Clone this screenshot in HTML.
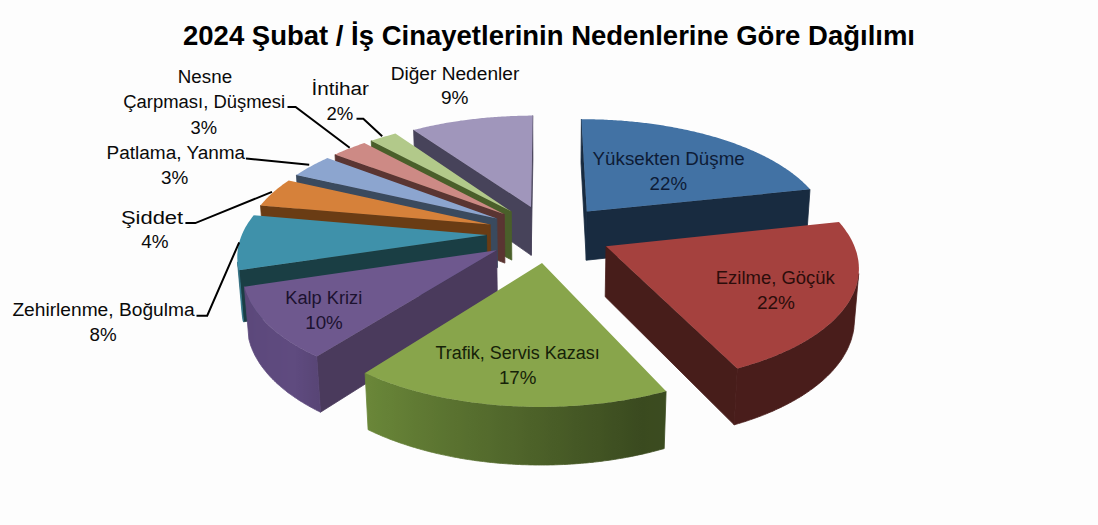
<!DOCTYPE html>
<html><head><meta charset="utf-8"><style>
html,body{margin:0;padding:0;background:#fdfdfd;}
body{width:1098px;height:525px;overflow:hidden;}
svg{display:block;}
text{font-family:"Liberation Sans",sans-serif;}
</style></head><body>
<svg width="1098" height="525" viewBox="0 0 1098 525">
<rect width="1098" height="525" fill="#fdfdfd"/>
<text x="183" y="44.6" textLength="732" lengthAdjust="spacingAndGlyphs" font-weight="bold" font-size="27" fill="#000">2024 Şubat / İş Cinayetlerinin Nedenlerine Göre Dağılımı</text>
<defs><linearGradient id="g1_51" gradientUnits="userSpaceOnUse" x1="734.2" y1="0" x2="858.7" y2="0"><stop offset="0.0211" stop-color="#491d1b"/><stop offset="0.0553" stop-color="#491d1b"/><stop offset="0.0891" stop-color="#491d1b"/><stop offset="0.1223" stop-color="#491d1b"/><stop offset="0.1551" stop-color="#491d1b"/><stop offset="0.1873" stop-color="#491d1b"/><stop offset="0.2190" stop-color="#491d1b"/><stop offset="0.2501" stop-color="#491d1b"/><stop offset="0.2807" stop-color="#491d1b"/><stop offset="0.3108" stop-color="#491d1b"/><stop offset="0.3402" stop-color="#491d1b"/><stop offset="0.3691" stop-color="#491d1b"/><stop offset="0.3974" stop-color="#491d1b"/><stop offset="0.4250" stop-color="#491d1b"/><stop offset="0.4521" stop-color="#491d1b"/><stop offset="0.4785" stop-color="#491d1b"/><stop offset="0.5043" stop-color="#491d1b"/><stop offset="0.5295" stop-color="#491d1b"/><stop offset="0.5540" stop-color="#491d1b"/><stop offset="0.5779" stop-color="#491d1b"/><stop offset="0.6011" stop-color="#491d1b"/><stop offset="0.6237" stop-color="#491d1b"/><stop offset="0.6456" stop-color="#491d1b"/><stop offset="0.6668" stop-color="#491d1b"/><stop offset="0.6873" stop-color="#491d1b"/><stop offset="0.7072" stop-color="#491d1b"/><stop offset="0.7264" stop-color="#491d1b"/><stop offset="0.7449" stop-color="#491d1b"/><stop offset="0.7627" stop-color="#491d1b"/><stop offset="0.7798" stop-color="#491d1b"/><stop offset="0.7962" stop-color="#491d1b"/><stop offset="0.8119" stop-color="#491d1b"/><stop offset="0.8270" stop-color="#491d1b"/><stop offset="0.8413" stop-color="#491d1b"/><stop offset="0.8549" stop-color="#491d1b"/><stop offset="0.8679" stop-color="#491d1b"/><stop offset="0.8801" stop-color="#491d1b"/><stop offset="0.8917" stop-color="#491d1b"/><stop offset="0.9025" stop-color="#491d1b"/><stop offset="0.9127" stop-color="#491d1b"/><stop offset="0.9222" stop-color="#491d1b"/><stop offset="0.9309" stop-color="#491d1b"/><stop offset="0.9390" stop-color="#491d1b"/><stop offset="0.9464" stop-color="#491d1b"/><stop offset="0.9531" stop-color="#491d1b"/><stop offset="0.9592" stop-color="#491d1b"/><stop offset="0.9645" stop-color="#491d1b"/><stop offset="0.9692" stop-color="#491d1b"/><stop offset="0.9732" stop-color="#491d1b"/><stop offset="0.9766" stop-color="#491d1b"/><stop offset="0.9793" stop-color="#491d1b"/><stop offset="0.9813" stop-color="#491d1b"/></linearGradient><linearGradient id="g2_0" gradientUnits="userSpaceOnUse" x1="365.1" y1="0" x2="666.1" y2="0"><stop offset="0.0081" stop-color="#6a8739"/><stop offset="0.0267" stop-color="#698538"/><stop offset="0.0459" stop-color="#678437"/><stop offset="0.0657" stop-color="#668237"/><stop offset="0.0860" stop-color="#658136"/><stop offset="0.1067" stop-color="#647f35"/><stop offset="0.1280" stop-color="#637e35"/><stop offset="0.1497" stop-color="#617c34"/><stop offset="0.1719" stop-color="#607a33"/><stop offset="0.1944" stop-color="#5f7933"/><stop offset="0.2174" stop-color="#5e7732"/><stop offset="0.2408" stop-color="#5c7631"/><stop offset="0.2646" stop-color="#5b7431"/><stop offset="0.2886" stop-color="#5a7230"/><stop offset="0.3130" stop-color="#59712f"/><stop offset="0.3377" stop-color="#576f2f"/><stop offset="0.3627" stop-color="#566e2e"/><stop offset="0.3879" stop-color="#556c2d"/><stop offset="0.4132" stop-color="#546b2d"/><stop offset="0.4388" stop-color="#52692c"/><stop offset="0.4646" stop-color="#51672b"/><stop offset="0.4905" stop-color="#50662b"/><stop offset="0.5164" stop-color="#4f642a"/><stop offset="0.5425" stop-color="#4d6229"/><stop offset="0.5686" stop-color="#4c6128"/><stop offset="0.5947" stop-color="#4b5f28"/><stop offset="0.6208" stop-color="#495d27"/><stop offset="0.6469" stop-color="#485c26"/><stop offset="0.6729" stop-color="#475a26"/><stop offset="0.6988" stop-color="#455825"/><stop offset="0.7246" stop-color="#445724"/><stop offset="0.7503" stop-color="#435524"/><stop offset="0.7758" stop-color="#425423"/><stop offset="0.8010" stop-color="#405222"/><stop offset="0.8261" stop-color="#3f5022"/><stop offset="0.8509" stop-color="#3e4f21"/><stop offset="0.8754" stop-color="#3c4d20"/><stop offset="0.8996" stop-color="#3b4b20"/><stop offset="0.9235" stop-color="#3a4a1f"/><stop offset="0.9470" stop-color="#3b4b1f"/><stop offset="0.9702" stop-color="#3b4b20"/><stop offset="0.9929" stop-color="#3b4c20"/></linearGradient><linearGradient id="g3_0" gradientUnits="userSpaceOnUse" x1="244.4" y1="0" x2="320.5" y2="0"><stop offset="0.0316" stop-color="#5b487a"/><stop offset="0.0355" stop-color="#5b487a"/><stop offset="0.0397" stop-color="#5b487a"/><stop offset="0.0441" stop-color="#5b487a"/><stop offset="0.0488" stop-color="#5b487a"/><stop offset="0.0539" stop-color="#5b487b"/><stop offset="0.0591" stop-color="#5c487b"/><stop offset="0.0647" stop-color="#5c487b"/><stop offset="0.0705" stop-color="#5c487b"/><stop offset="0.0767" stop-color="#5c487b"/><stop offset="0.0831" stop-color="#5c487b"/><stop offset="0.0898" stop-color="#5c487b"/><stop offset="0.0968" stop-color="#5c487b"/><stop offset="0.1040" stop-color="#5c487b"/><stop offset="0.1116" stop-color="#5c487b"/><stop offset="0.1194" stop-color="#5c487c"/><stop offset="0.1275" stop-color="#5c497c"/><stop offset="0.1359" stop-color="#5c497c"/><stop offset="0.1446" stop-color="#5c497c"/><stop offset="0.1536" stop-color="#5d497c"/><stop offset="0.1629" stop-color="#5d497c"/><stop offset="0.1724" stop-color="#5d497c"/><stop offset="0.1823" stop-color="#5d497c"/><stop offset="0.1924" stop-color="#5d497c"/><stop offset="0.2028" stop-color="#5d497c"/><stop offset="0.2135" stop-color="#5d497d"/><stop offset="0.2245" stop-color="#5d497d"/><stop offset="0.2358" stop-color="#5d497d"/><stop offset="0.2474" stop-color="#5d497d"/><stop offset="0.2592" stop-color="#5d497d"/><stop offset="0.2714" stop-color="#5d497d"/><stop offset="0.2838" stop-color="#5d497d"/><stop offset="0.2965" stop-color="#5e497d"/><stop offset="0.3095" stop-color="#5e4a7d"/><stop offset="0.3228" stop-color="#5e4a7d"/><stop offset="0.3364" stop-color="#5e4a7e"/><stop offset="0.3503" stop-color="#5e4a7e"/><stop offset="0.3644" stop-color="#5e4a7e"/><stop offset="0.3788" stop-color="#5e4a7e"/><stop offset="0.3936" stop-color="#5e4a7e"/><stop offset="0.4086" stop-color="#5e4a7e"/><stop offset="0.4239" stop-color="#5e4a7e"/><stop offset="0.4394" stop-color="#5e4a7e"/><stop offset="0.4553" stop-color="#5e4a7e"/><stop offset="0.4714" stop-color="#5e4a7e"/><stop offset="0.4878" stop-color="#5e4a7f"/><stop offset="0.5045" stop-color="#5f4a7f"/><stop offset="0.5215" stop-color="#5f4a7f"/><stop offset="0.5388" stop-color="#5f4a7f"/><stop offset="0.5563" stop-color="#5f4a7f"/><stop offset="0.5741" stop-color="#5f4b7f"/><stop offset="0.5922" stop-color="#5f4b7f"/><stop offset="0.6106" stop-color="#5f4b7f"/><stop offset="0.6293" stop-color="#5f4b7f"/><stop offset="0.6482" stop-color="#5f4b7f"/><stop offset="0.6674" stop-color="#5f4b7f"/><stop offset="0.6868" stop-color="#5e4a7e"/><stop offset="0.7066" stop-color="#5e4a7e"/><stop offset="0.7266" stop-color="#5d497d"/><stop offset="0.7468" stop-color="#5d497d"/><stop offset="0.7674" stop-color="#5d497c"/><stop offset="0.7882" stop-color="#5c487b"/><stop offset="0.8092" stop-color="#5c487b"/><stop offset="0.8305" stop-color="#5b487a"/><stop offset="0.8521" stop-color="#5b4779"/><stop offset="0.8740" stop-color="#5a4779"/><stop offset="0.8961" stop-color="#5a4678"/><stop offset="0.9184" stop-color="#594677"/><stop offset="0.9410" stop-color="#594677"/><stop offset="0.9639" stop-color="#584576"/></linearGradient><linearGradient id="g4_0" gradientUnits="userSpaceOnUse" x1="237.5" y1="0" x2="243.5" y2="0"><stop offset="0.3869" stop-color="#2f6c7f"/><stop offset="0.4070" stop-color="#306f82"/><stop offset="0.4304" stop-color="#327286"/><stop offset="0.4573" stop-color="#33758a"/><stop offset="0.4876" stop-color="#33768a"/><stop offset="0.5213" stop-color="#33768a"/><stop offset="0.5584" stop-color="#33768a"/><stop offset="0.5990" stop-color="#33768a"/></linearGradient></defs>
<g><polygon points="413.6,130.0 531.0,206.9 531.2,255.3 415.2,174.2" fill="#47435a" stroke="#47435a" stroke-width="0.8" stroke-linejoin="round"/><polygon points="531.0,206.9 532.7,115.6 532.9,159.0 531.2,255.3" fill="#47435a" stroke="#47435a" stroke-width="0.8" stroke-linejoin="round"/><polygon points="531.0,206.9 413.6,130.0 415.2,129.6 416.8,129.2 418.5,128.8 420.1,128.4 421.7,128.0 423.4,127.6 425.0,127.2 426.7,126.8 428.4,126.5 430.0,126.1 431.7,125.8 433.4,125.4 435.1,125.1 436.8,124.7 438.5,124.4 440.2,124.1 441.9,123.8 443.6,123.4 445.3,123.1 447.0,122.8 448.7,122.5 450.5,122.3 452.2,122.0 453.9,121.7 455.7,121.4 457.4,121.2 459.1,120.9 460.9,120.6 462.6,120.4 464.4,120.2 466.2,119.9 467.9,119.7 469.7,119.5 471.5,119.3 473.2,119.1 475.0,118.9 476.8,118.7 478.6,118.5 480.3,118.3 482.1,118.1 483.9,117.9 485.7,117.8 487.5,117.6 489.3,117.5 491.1,117.3 492.9,117.2 494.7,117.0 496.5,116.9 498.3,116.8 500.1,116.7 501.9,116.6 503.7,116.5 505.5,116.4 507.3,116.3 509.1,116.2 510.9,116.1 512.7,116.0 514.5,116.0 516.3,115.9 518.2,115.8 520.0,115.8 521.8,115.8 523.6,115.7 525.4,115.7 527.2,115.7 529.0,115.6 530.9,115.6 532.7,115.6" fill="#a096bb"/></g>
<g><polygon points="371.2,140.7 511.3,211.5 511.8,260.1 373.4,185.5" fill="#4a5f2a" stroke="#4a5f2a" stroke-width="0.8" stroke-linejoin="round"/><polygon points="511.3,211.5 371.2,140.7 372.8,140.2 374.3,139.7 375.9,139.2 377.5,138.7 379.1,138.2 380.7,137.7 382.3,137.3 383.9,136.8 385.5,136.3 387.1,135.9 388.8,135.4 390.4,134.9 392.0,134.5 393.7,134.1 395.4,133.6" fill="#b2c98a"/></g>
<g><polygon points="581.4,119.2 586.8,211.6 586.3,260.2 581.0,162.8" fill="#182b40" stroke="#182b40" stroke-width="0.8" stroke-linejoin="round"/><polygon points="586.8,211.6 810.0,189.3 806.6,236.7 586.3,260.2" fill="#182b40" stroke="#182b40" stroke-width="0.8" stroke-linejoin="round"/><polygon points="586.8,211.6 581.4,119.2 583.2,119.2 585.0,119.2 586.9,119.2 588.7,119.2 590.5,119.3 592.3,119.3 594.1,119.3 595.9,119.4 597.7,119.4 599.5,119.5 601.3,119.5 603.1,119.6 604.9,119.7 606.7,119.8 608.5,119.9 610.3,120.0 612.1,120.1 613.9,120.2 615.7,120.3 617.5,120.4 619.3,120.5 621.1,120.6 622.9,120.8 624.7,120.9 626.5,121.1 628.3,121.2 630.1,121.4 631.9,121.6 633.7,121.7 635.4,121.9 637.2,122.1 639.0,122.3 640.8,122.5 642.5,122.7 644.3,122.9 646.1,123.1 647.8,123.3 649.6,123.6 651.4,123.8 653.1,124.0 654.9,124.3 656.6,124.5 658.4,124.8 660.1,125.1 661.8,125.3 663.6,125.6 665.3,125.9 667.0,126.2 668.8,126.5 670.5,126.8 672.2,127.1 673.9,127.4 675.6,127.7 677.3,128.0 679.0,128.4 680.7,128.7 682.4,129.0 684.1,129.4 685.8,129.8 687.4,130.1 689.1,130.5 690.8,130.9 692.4,131.2 694.1,131.6 695.7,132.0 697.4,132.4 699.0,132.8 700.7,133.2 702.3,133.6 703.9,134.0 705.5,134.5 707.1,134.9 708.7,135.3 710.3,135.8 711.9,136.2 713.5,136.7 715.1,137.1 716.7,137.6 718.2,138.1 719.8,138.6 721.3,139.0 722.9,139.5 724.4,140.0 726.0,140.5 727.5,141.0 729.0,141.5 730.5,142.1 732.0,142.6 733.5,143.1 735.0,143.6 736.5,144.2 737.9,144.7 739.4,145.3 740.9,145.8 742.3,146.4 743.7,147.0 745.2,147.5 746.6,148.1 748.0,148.7 749.4,149.3 750.8,149.9 752.2,150.5 753.6,151.1 754.9,151.7 756.3,152.3 757.6,152.9 759.0,153.6 760.3,154.2 761.6,154.8 762.9,155.5 764.2,156.1 765.5,156.8 766.8,157.4 768.1,158.1 769.3,158.8 770.6,159.4 771.8,160.1 773.0,160.8 774.3,161.5 775.5,162.2 776.7,162.9 777.8,163.6 779.0,164.3 780.2,165.0 781.3,165.7 782.5,166.4 783.6,167.2 784.7,167.9 785.8,168.6 786.9,169.4 788.0,170.1 789.1,170.9 790.1,171.6 791.1,172.4 792.2,173.1 793.2,173.9 794.2,174.7 795.2,175.5 796.2,176.2 797.1,177.0 798.1,177.8 799.0,178.6 800.0,179.4 800.9,180.2 801.8,181.0 802.7,181.8 803.5,182.7 804.4,183.5 805.2,184.3 806.1,185.1 806.9,186.0 807.7,186.8 808.5,187.6 809.2,188.5 810.0,189.3" fill="#4272a4"/></g>
<g><polygon points="335.0,154.5 504.3,214.3 504.9,263.1 337.7,200.0" fill="#5a3532" stroke="#5a3532" stroke-width="0.8" stroke-linejoin="round"/><polygon points="504.3,214.3 335.0,154.5 336.4,153.9 337.8,153.2 339.2,152.6 340.6,152.0 342.0,151.4 343.5,150.8 344.9,150.2 346.3,149.6 347.8,149.1 349.3,148.5 350.7,147.9 352.2,147.4 353.7,146.8 355.2,146.2 356.7,145.7 358.2,145.2 359.7,144.6 361.3,144.1 362.8,143.6 364.3,143.1" fill="#cd8a85"/></g>
<g><polygon points="296.4,175.1 496.8,218.6 497.5,267.6 299.7,221.7" fill="#3a4a5e" stroke="#3a4a5e" stroke-width="0.8" stroke-linejoin="round"/><polygon points="496.8,218.6 296.4,175.1 297.6,174.3 298.8,173.5 299.9,172.8 301.1,172.0 302.3,171.3 303.5,170.5 304.8,169.8 306.0,169.1 307.2,168.3 308.5,167.6 309.8,166.9 311.1,166.2 312.4,165.5 313.7,164.8 315.0,164.1 316.3,163.4 317.6,162.7 319.0,162.0 320.3,161.4 321.7,160.7 323.1,160.0 324.5,159.4 325.9,158.7 327.3,158.1" fill="#8ca5cf"/></g>
<g><polygon points="260.5,205.4 490.2,224.6 491.0,273.9 264.4,253.6" fill="#6a3c14" stroke="#6a3c14" stroke-width="0.8" stroke-linejoin="round"/><polygon points="490.2,224.6 260.5,205.4 261.3,204.5 262.0,203.6 262.8,202.7 263.6,201.8 264.4,200.9 265.2,200.1 266.0,199.2 266.8,198.3 267.7,197.5 268.6,196.6 269.4,195.8 270.3,194.9 271.2,194.1 272.2,193.2 273.1,192.4 274.1,191.6 275.0,190.7 276.0,189.9 277.0,189.1 278.0,188.3 279.0,187.5 280.0,186.7 281.1,185.9 282.1,185.1 283.2,184.3 284.3,183.5 285.4,182.7 286.5,181.9 287.6,181.2 288.7,180.4" fill="#d6813a"/></g>
<g><polygon points="239.0,270.2 486.5,235.1 487.3,284.9 243.5,321.8" fill="#1a3e44" stroke="#1a3e44" stroke-width="0.8" stroke-linejoin="round"/><polygon points="239.0,270.2 238.7,269.2 238.5,268.1 238.3,267.1 238.1,266.0 237.9,265.0 237.8,264.0 237.6,262.9 237.5,261.9 242.0,313.1 242.1,314.2 242.3,315.3 242.4,316.4 242.6,317.5 242.8,318.5 243.0,319.6 243.2,320.7 243.5,321.8" fill="url(#g4_0)" stroke="url(#g4_0)" stroke-width="0.8" stroke-linejoin="round"/><polygon points="486.5,235.1 239.0,270.2 238.7,269.2 238.5,268.1 238.3,267.1 238.1,266.0 237.9,265.0 237.8,264.0 237.6,262.9 237.5,261.9 237.4,260.9 237.4,259.8 237.3,258.8 237.3,257.8 237.3,256.7 237.3,255.7 237.3,254.7 237.4,253.7 237.5,252.6 237.6,251.6 237.7,250.6 237.8,249.6 237.9,248.5 238.1,247.5 238.3,246.5 238.5,245.5 238.7,244.5 239.0,243.5 239.2,242.4 239.5,241.4 239.8,240.4 240.1,239.4 240.5,238.4 240.8,237.4 241.2,236.4 241.6,235.4 242.0,234.5 242.4,233.5 242.9,232.5 243.3,231.5 243.8,230.5 244.3,229.5 244.8,228.6 245.3,227.6 245.9,226.6 246.4,225.7 247.0,224.7 247.6,223.7 248.2,222.8 248.9,221.8 249.5,220.9 250.2,219.9 250.9,219.0 251.6,218.1 252.3,217.1 253.0,216.2 253.7,215.3" fill="#3f91aa"/></g>
<g><polygon points="606.0,246.3 737.3,368.5 734.2,424.8 605.2,296.7" fill="#471d1a" stroke="#471d1a" stroke-width="0.8" stroke-linejoin="round"/><polygon points="858.7,273.6 858.6,274.7 858.5,275.8 858.3,276.8 858.2,277.9 858.0,279.0 857.8,280.0 857.5,281.1 857.3,282.2 857.0,283.2 856.7,284.3 856.4,285.4 856.1,286.4 855.7,287.5 855.4,288.6 855.0,289.6 854.5,290.7 854.1,291.8 853.6,292.8 853.2,293.9 852.6,295.0 852.1,296.0 851.6,297.1 851.0,298.1 850.4,299.2 849.8,300.3 849.2,301.3 848.5,302.4 847.8,303.4 847.1,304.5 846.4,305.5 845.7,306.6 844.9,307.6 844.1,308.6 843.3,309.7 842.5,310.7 841.6,311.7 840.7,312.8 839.9,313.8 838.9,314.8 838.0,315.8 837.0,316.8 836.0,317.9 835.0,318.9 834.0,319.9 833.0,320.9 831.9,321.9 830.8,322.9 829.7,323.8 828.6,324.8 827.4,325.8 826.2,326.8 825.0,327.8 823.8,328.7 822.5,329.7 821.3,330.6 820.0,331.6 818.7,332.5 817.4,333.5 816.0,334.4 814.6,335.3 813.2,336.3 811.8,337.2 810.4,338.1 808.9,339.0 807.5,339.9 806.0,340.8 804.5,341.7 802.9,342.6 801.4,343.4 799.8,344.3 798.2,345.2 796.6,346.0 794.9,346.9 793.3,347.7 791.6,348.5 789.9,349.4 788.2,350.2 786.4,351.0 784.7,351.8 782.9,352.6 781.1,353.4 779.3,354.1 777.5,354.9 775.6,355.7 773.8,356.4 771.9,357.2 770.0,357.9 768.1,358.6 766.1,359.4 764.2,360.1 762.2,360.8 760.2,361.5 758.2,362.2 756.2,362.8 754.2,363.5 752.1,364.1 750.0,364.8 748.0,365.4 745.9,366.1 743.7,366.7 741.6,367.3 739.5,367.9 737.3,368.5 734.2,424.8 736.3,424.2 738.4,423.6 740.5,423.0 742.6,422.3 744.7,421.7 746.7,421.0 748.8,420.3 750.8,419.6 752.8,418.9 754.8,418.2 756.8,417.5 758.7,416.8 760.7,416.1 762.6,415.3 764.5,414.6 766.4,413.8 768.3,413.0 770.1,412.2 772.0,411.5 773.8,410.7 775.6,409.8 777.4,409.0 779.1,408.2 780.9,407.4 782.6,406.5 784.3,405.7 786.0,404.8 787.7,404.0 789.3,403.1 791.0,402.2 792.6,401.3 794.2,400.4 795.8,399.5 797.3,398.6 798.9,397.7 800.4,396.8 801.9,395.9 803.3,394.9 804.8,394.0 806.2,393.0 807.7,392.1 809.1,391.1 810.4,390.1 811.8,389.2 813.1,388.2 814.4,387.2 815.7,386.2 817.0,385.2 818.2,384.2 819.5,383.2 820.7,382.2 821.9,381.2 823.0,380.2 824.2,379.1 825.3,378.1 826.4,377.1 827.5,376.0 828.5,375.0 829.6,373.9 830.6,372.9 831.6,371.8 832.6,370.8 833.5,369.7 834.5,368.6 835.4,367.6 836.2,366.5 837.1,365.4 838.0,364.3 838.8,363.2 839.6,362.2 840.4,361.1 841.1,360.0 841.9,358.9 842.6,357.8 843.3,356.7 843.9,355.6 844.6,354.5 845.2,353.4 845.8,352.3 846.4,351.2 847.0,350.1 847.5,348.9 848.1,347.8 848.6,346.7 849.0,345.6 849.5,344.5 849.9,343.4 850.4,342.2 850.8,341.1 851.1,340.0 851.5,338.9 851.8,337.8 852.1,336.6 852.4,335.5 852.7,334.4 853.0,333.3 853.2,332.1 853.4,331.0 853.6,329.9 853.8,328.8 853.9,327.7 854.0,326.5 854.1,325.4" fill="url(#g1_51)" stroke="url(#g1_51)" stroke-width="0.8" stroke-linejoin="round"/><polygon points="606.0,246.3 838.9,221.9 839.7,222.8 840.5,223.7 841.3,224.7 842.0,225.6 842.8,226.6 843.5,227.5 844.3,228.5 845.0,229.5 845.7,230.4 846.3,231.4 847.0,232.4 847.6,233.3 848.3,234.3 848.9,235.3 849.5,236.3 850.1,237.3 850.6,238.3 851.2,239.3 851.7,240.3 852.2,241.3 852.7,242.3 853.1,243.3 853.6,244.3 854.0,245.3 854.5,246.4 854.9,247.4 855.2,248.4 855.6,249.4 855.9,250.5 856.3,251.5 856.6,252.5 856.9,253.6 857.1,254.6 857.4,255.7 857.6,256.7 857.8,257.7 858.0,258.8 858.2,259.8 858.4,260.9 858.5,261.9 858.6,263.0 858.7,264.1 858.8,265.1 858.8,266.2 858.9,267.2 858.9,268.3 858.9,269.4 858.9,270.4 858.8,271.5 858.8,272.6 858.7,273.6 858.6,274.7 858.5,275.8 858.3,276.8 858.2,277.9 858.0,279.0 857.8,280.0 857.5,281.1 857.3,282.2 857.0,283.2 856.7,284.3 856.4,285.4 856.1,286.4 855.7,287.5 855.4,288.6 855.0,289.6 854.5,290.7 854.1,291.8 853.6,292.8 853.2,293.9 852.6,295.0 852.1,296.0 851.6,297.1 851.0,298.1 850.4,299.2 849.8,300.3 849.2,301.3 848.5,302.4 847.8,303.4 847.1,304.5 846.4,305.5 845.7,306.6 844.9,307.6 844.1,308.6 843.3,309.7 842.5,310.7 841.6,311.7 840.7,312.8 839.9,313.8 838.9,314.8 838.0,315.8 837.0,316.8 836.0,317.9 835.0,318.9 834.0,319.9 833.0,320.9 831.9,321.9 830.8,322.9 829.7,323.8 828.6,324.8 827.4,325.8 826.2,326.8 825.0,327.8 823.8,328.7 822.5,329.7 821.3,330.6 820.0,331.6 818.7,332.5 817.4,333.5 816.0,334.4 814.6,335.3 813.2,336.3 811.8,337.2 810.4,338.1 808.9,339.0 807.5,339.9 806.0,340.8 804.5,341.7 802.9,342.6 801.4,343.4 799.8,344.3 798.2,345.2 796.6,346.0 794.9,346.9 793.3,347.7 791.6,348.5 789.9,349.4 788.2,350.2 786.4,351.0 784.7,351.8 782.9,352.6 781.1,353.4 779.3,354.1 777.5,354.9 775.6,355.7 773.8,356.4 771.9,357.2 770.0,357.9 768.1,358.6 766.1,359.4 764.2,360.1 762.2,360.8 760.2,361.5 758.2,362.2 756.2,362.8 754.2,363.5 752.1,364.1 750.0,364.8 748.0,365.4 745.9,366.1 743.7,366.7 741.6,367.3 739.5,367.9 737.3,368.5" fill="#a5413e"/></g>
<g><polygon points="316.7,356.4 496.6,250.2 497.4,300.8 320.5,412.2" fill="#4a3a5c" stroke="#4a3a5c" stroke-width="0.8" stroke-linejoin="round"/><polygon points="316.7,356.4 315.0,355.6 313.2,354.7 311.5,353.9 309.8,353.1 308.1,352.2 306.4,351.4 304.8,350.5 303.2,349.6 301.6,348.7 300.0,347.9 298.4,347.0 296.9,346.1 295.4,345.2 293.9,344.3 292.4,343.3 290.9,342.4 289.5,341.5 288.1,340.6 286.7,339.6 285.3,338.7 283.9,337.7 282.6,336.8 281.3,335.8 280.0,334.8 278.7,333.9 277.5,332.9 276.3,331.9 275.1,330.9 273.9,329.9 272.7,328.9 271.6,327.9 270.5,326.9 269.4,325.9 268.3,324.9 267.3,323.9 266.2,322.9 265.2,321.9 264.2,320.8 263.3,319.8 262.3,318.8 261.4,317.7 260.5,316.7 259.7,315.6 258.8,314.6 258.0,313.5 257.2,312.5 256.4,311.4 255.6,310.4 254.9,309.3 254.2,308.3 253.5,307.2 252.8,306.1 252.1,305.1 251.5,304.0 250.9,302.9 250.3,301.9 249.7,300.8 249.2,299.7 248.7,298.6 248.2,297.6 247.7,296.5 247.3,295.4 246.8,294.3 246.4,293.2 246.0,292.2 245.6,291.1 245.3,290.0 245.0,288.9 244.7,287.8 244.4,286.7 248.9,339.2 249.2,340.3 249.5,341.5 249.8,342.6 250.2,343.7 250.5,344.9 250.9,346.0 251.3,347.1 251.8,348.3 252.2,349.4 252.7,350.5 253.2,351.7 253.7,352.8 254.3,353.9 254.8,355.1 255.4,356.2 256.0,357.3 256.7,358.4 257.3,359.5 258.0,360.7 258.7,361.8 259.4,362.9 260.1,364.0 260.9,365.1 261.6,366.2 262.4,367.3 263.3,368.4 264.1,369.5 265.0,370.6 265.9,371.7 266.8,372.8 267.7,373.9 268.7,374.9 269.6,376.0 270.6,377.1 271.6,378.2 272.7,379.2 273.7,380.3 274.8,381.3 275.9,382.4 277.0,383.4 278.2,384.5 279.4,385.5 280.5,386.6 281.8,387.6 283.0,388.6 284.2,389.6 285.5,390.6 286.8,391.7 288.1,392.7 289.5,393.7 290.8,394.6 292.2,395.6 293.6,396.6 295.0,397.6 296.5,398.5 297.9,399.5 299.4,400.5 300.9,401.4 302.4,402.3 304.0,403.3 305.5,404.2 307.1,405.1 308.7,406.0 310.3,406.9 312.0,407.8 313.6,408.7 315.3,409.6 317.0,410.5 318.7,411.3 320.5,412.2" fill="url(#g3_0)" stroke="url(#g3_0)" stroke-width="0.8" stroke-linejoin="round"/><polygon points="496.6,250.2 316.7,356.4 315.0,355.6 313.2,354.7 311.5,353.9 309.8,353.1 308.1,352.2 306.4,351.4 304.8,350.5 303.2,349.6 301.6,348.7 300.0,347.9 298.4,347.0 296.9,346.1 295.4,345.2 293.9,344.3 292.4,343.3 290.9,342.4 289.5,341.5 288.1,340.6 286.7,339.6 285.3,338.7 283.9,337.7 282.6,336.8 281.3,335.8 280.0,334.8 278.7,333.9 277.5,332.9 276.3,331.9 275.1,330.9 273.9,329.9 272.7,328.9 271.6,327.9 270.5,326.9 269.4,325.9 268.3,324.9 267.3,323.9 266.2,322.9 265.2,321.9 264.2,320.8 263.3,319.8 262.3,318.8 261.4,317.7 260.5,316.7 259.7,315.6 258.8,314.6 258.0,313.5 257.2,312.5 256.4,311.4 255.6,310.4 254.9,309.3 254.2,308.3 253.5,307.2 252.8,306.1 252.1,305.1 251.5,304.0 250.9,302.9 250.3,301.9 249.7,300.8 249.2,299.7 248.7,298.6 248.2,297.6 247.7,296.5 247.3,295.4 246.8,294.3 246.4,293.2 246.0,292.2 245.6,291.1 245.3,290.0 245.0,288.9 244.7,287.8 244.4,286.7" fill="#6e588e"/></g>
<g><polygon points="666.1,391.2 663.9,391.8 661.6,392.4 659.2,392.9 656.9,393.5 654.6,394.1 652.2,394.6 649.9,395.2 647.5,395.7 645.1,396.2 642.7,396.7 640.3,397.2 637.9,397.7 635.4,398.2 633.0,398.6 630.5,399.1 628.1,399.5 625.6,399.9 623.1,400.4 620.6,400.8 618.1,401.1 615.6,401.5 613.1,401.9 610.5,402.2 608.0,402.6 605.5,402.9 602.9,403.2 600.3,403.5 597.8,403.8 595.2,404.1 592.6,404.3 590.0,404.6 587.4,404.8 584.8,405.1 582.2,405.3 579.6,405.5 577.0,405.7 574.4,405.8 571.8,406.0 569.1,406.1 566.5,406.3 563.9,406.4 561.2,406.5 558.6,406.6 556.0,406.7 553.3,406.7 550.7,406.8 548.0,406.8 545.4,406.9 542.8,406.9 540.1,406.9 537.5,406.9 534.8,406.9 532.2,406.8 529.5,406.8 526.9,406.7 524.3,406.6 521.6,406.5 519.0,406.4 516.4,406.3 513.7,406.2 511.1,406.1 508.5,405.9 505.9,405.7 503.3,405.6 500.6,405.4 498.0,405.2 495.4,404.9 492.9,404.7 490.3,404.5 487.7,404.2 485.1,403.9 482.5,403.6 480.0,403.3 477.4,403.0 474.9,402.7 472.3,402.4 469.8,402.0 467.3,401.7 464.8,401.3 462.3,400.9 459.8,400.5 457.3,400.1 454.8,399.7 452.4,399.3 449.9,398.8 447.5,398.4 445.0,397.9 442.6,397.4 440.2,396.9 437.8,396.4 435.4,395.9 433.1,395.4 430.7,394.9 428.4,394.3 426.0,393.8 423.7,393.2 421.4,392.6 419.1,392.0 416.8,391.4 414.6,390.8 412.3,390.2 410.1,389.5 407.8,388.9 405.6,388.2 403.5,387.6 401.3,386.9 399.1,386.2 397.0,385.5 394.9,384.8 392.7,384.1 390.7,383.4 388.6,382.6 386.5,381.9 384.5,381.1 382.5,380.4 380.4,379.6 378.5,378.8 376.5,378.0 374.5,377.2 372.6,376.4 370.7,375.6 368.8,374.8 366.9,374.0 365.1,373.1 368.1,429.7 369.9,430.6 371.8,431.4 373.6,432.3 375.5,433.2 377.4,434.0 379.3,434.8 381.3,435.7 383.2,436.5 385.2,437.3 387.2,438.1 389.2,438.9 391.2,439.7 393.3,440.4 395.3,441.2 397.4,441.9 399.5,442.7 401.6,443.4 403.7,444.1 405.9,444.8 408.0,445.5 410.2,446.2 412.4,446.9 414.6,447.5 416.8,448.2 419.0,448.8 421.3,449.5 423.5,450.1 425.8,450.7 428.1,451.3 430.4,451.9 432.7,452.4 435.0,453.0 437.3,453.6 439.7,454.1 442.0,454.6 444.4,455.1 446.8,455.6 449.2,456.1 451.6,456.6 454.0,457.1 456.4,457.5 458.8,457.9 461.3,458.4 463.7,458.8 466.2,459.2 468.7,459.6 471.1,459.9 473.6,460.3 476.1,460.7 478.6,461.0 481.1,461.3 483.7,461.6 486.2,461.9 488.7,462.2 491.3,462.5 493.8,462.7 496.3,463.0 498.9,463.2 501.5,463.4 504.0,463.6 506.6,463.8 509.2,464.0 511.7,464.1 514.3,464.3 516.9,464.4 519.5,464.5 522.1,464.7 524.7,464.7 527.3,464.8 529.9,464.9 532.5,464.9 535.0,465.0 537.6,465.0 540.2,465.0 542.8,465.0 545.4,465.0 548.0,465.0 550.6,464.9 553.2,464.9 555.8,464.8 558.4,464.7 561.0,464.6 563.6,464.5 566.2,464.4 568.8,464.2 571.4,464.1 573.9,463.9 576.5,463.7 579.1,463.5 581.6,463.3 584.2,463.1 586.8,462.9 589.3,462.6 591.9,462.4 594.4,462.1 596.9,461.8 599.5,461.5 602.0,461.2 604.5,460.8 607.0,460.5 609.5,460.2 612.0,459.8 614.5,459.4 616.9,459.0 619.4,458.6 621.8,458.2 624.3,457.8 626.7,457.3 629.1,456.9 631.6,456.4 634.0,455.9 636.4,455.4 638.7,454.9 641.1,454.4 643.5,453.9 645.8,453.3 648.2,452.8 650.5,452.2 652.8,451.6 655.1,451.0 657.4,450.4 659.6,449.8 661.9,449.2 664.2,448.6" fill="url(#g2_0)" stroke="url(#g2_0)" stroke-width="0.8" stroke-linejoin="round"/><polygon points="542.0,263.0 666.1,391.2 663.9,391.8 661.6,392.4 659.2,392.9 656.9,393.5 654.6,394.1 652.2,394.6 649.9,395.2 647.5,395.7 645.1,396.2 642.7,396.7 640.3,397.2 637.9,397.7 635.4,398.2 633.0,398.6 630.5,399.1 628.1,399.5 625.6,399.9 623.1,400.4 620.6,400.8 618.1,401.1 615.6,401.5 613.1,401.9 610.5,402.2 608.0,402.6 605.5,402.9 602.9,403.2 600.3,403.5 597.8,403.8 595.2,404.1 592.6,404.3 590.0,404.6 587.4,404.8 584.8,405.1 582.2,405.3 579.6,405.5 577.0,405.7 574.4,405.8 571.8,406.0 569.1,406.1 566.5,406.3 563.9,406.4 561.2,406.5 558.6,406.6 556.0,406.7 553.3,406.7 550.7,406.8 548.0,406.8 545.4,406.9 542.8,406.9 540.1,406.9 537.5,406.9 534.8,406.9 532.2,406.8 529.5,406.8 526.9,406.7 524.3,406.6 521.6,406.5 519.0,406.4 516.4,406.3 513.7,406.2 511.1,406.1 508.5,405.9 505.9,405.7 503.3,405.6 500.6,405.4 498.0,405.2 495.4,404.9 492.9,404.7 490.3,404.5 487.7,404.2 485.1,403.9 482.5,403.6 480.0,403.3 477.4,403.0 474.9,402.7 472.3,402.4 469.8,402.0 467.3,401.7 464.8,401.3 462.3,400.9 459.8,400.5 457.3,400.1 454.8,399.7 452.4,399.3 449.9,398.8 447.5,398.4 445.0,397.9 442.6,397.4 440.2,396.9 437.8,396.4 435.4,395.9 433.1,395.4 430.7,394.9 428.4,394.3 426.0,393.8 423.7,393.2 421.4,392.6 419.1,392.0 416.8,391.4 414.6,390.8 412.3,390.2 410.1,389.5 407.8,388.9 405.6,388.2 403.5,387.6 401.3,386.9 399.1,386.2 397.0,385.5 394.9,384.8 392.7,384.1 390.7,383.4 388.6,382.6 386.5,381.9 384.5,381.1 382.5,380.4 380.4,379.6 378.5,378.8 376.5,378.0 374.5,377.2 372.6,376.4 370.7,375.6 368.8,374.8 366.9,374.0 365.1,373.1" fill="#88a54b"/></g>
<polyline points="196.5,315.7 207.2,315.7 239.2,242.3" fill="none" stroke="#000" stroke-width="2"/>
<polyline points="185.4,223.1 195.3,223.1 272.0,191.9" fill="none" stroke="#000" stroke-width="2"/>
<polyline points="246.0,158.5 309.2,164.7" fill="none" stroke="#000" stroke-width="2"/>
<polyline points="287.5,107.0 295.6,107.0 349.7,147.7" fill="none" stroke="#000" stroke-width="2"/>
<polyline points="356.5,118.7 363.3,118.7 382.2,136.3" fill="none" stroke="#000" stroke-width="2"/>
<g font-size="17.6" fill="#111">
<text x="592.6" y="164.9" textLength="152.1" lengthAdjust="spacingAndGlyphs" fill="#0e1c36">Yüksekten Düşme</text>
<text x="649.6" y="189.7" textLength="37.4" lengthAdjust="spacingAndGlyphs" fill="#0e1c36">22%</text>
<text x="715.8" y="283.5" textLength="119.0" lengthAdjust="spacingAndGlyphs" fill="#2c0d0b">Ezilme, Göçük</text>
<text x="756.9" y="308.5" textLength="38.0" lengthAdjust="spacingAndGlyphs" fill="#2c0d0b">22%</text>
<text x="435.5" y="358.8" textLength="164.2" lengthAdjust="spacingAndGlyphs" fill="#162208">Trafik, Servis Kazası</text>
<text x="498.9" y="383.7" textLength="37.5" lengthAdjust="spacingAndGlyphs" fill="#162208">17%</text>
<text x="285.3" y="303.8" textLength="76.9" lengthAdjust="spacingAndGlyphs" fill="#1c1230">Kalp Krizi</text>
<text x="305.2" y="328.6" textLength="37.6" lengthAdjust="spacingAndGlyphs" fill="#1c1230">10%</text>
<text x="12.4" y="315.7" textLength="182.2" lengthAdjust="spacingAndGlyphs" fill="#0a0a0a">Zehirlenme, Boğulma</text>
<text x="89.5" y="340.6" textLength="27.1" lengthAdjust="spacingAndGlyphs" fill="#0a0a0a">8%</text>
<text x="120.9" y="223.6" textLength="62.3" lengthAdjust="spacingAndGlyphs" fill="#0a0a0a">Şiddet</text>
<text x="141.3" y="247.6" textLength="27.3" lengthAdjust="spacingAndGlyphs" fill="#0a0a0a">4%</text>
<text x="106.5" y="159.2" textLength="138.7" lengthAdjust="spacingAndGlyphs" fill="#0a0a0a">Patlama, Yanma</text>
<text x="161.1" y="183.7" textLength="27.3" lengthAdjust="spacingAndGlyphs" fill="#0a0a0a">3%</text>
<text x="177.8" y="83.0" textLength="54.3" lengthAdjust="spacingAndGlyphs" fill="#0a0a0a">Nesne</text>
<text x="123.2" y="107.6" textLength="162.0" lengthAdjust="spacingAndGlyphs" fill="#0a0a0a">Çarpması, Düşmesi</text>
<text x="190.6" y="133.9" textLength="26.5" lengthAdjust="spacingAndGlyphs" fill="#0a0a0a">3%</text>
<text x="311.5" y="94.6" textLength="57.5" lengthAdjust="spacingAndGlyphs" fill="#0a0a0a">İntihar</text>
<text x="326.4" y="119.7" textLength="26.8" lengthAdjust="spacingAndGlyphs" fill="#0a0a0a">2%</text>
<text x="390.7" y="80.0" textLength="128.6" lengthAdjust="spacingAndGlyphs" fill="#0a0a0a">Diğer Nedenler</text>
<text x="440.9" y="104.4" textLength="27.5" lengthAdjust="spacingAndGlyphs" fill="#0a0a0a">9%</text>
</g>
</svg>
</body></html>
